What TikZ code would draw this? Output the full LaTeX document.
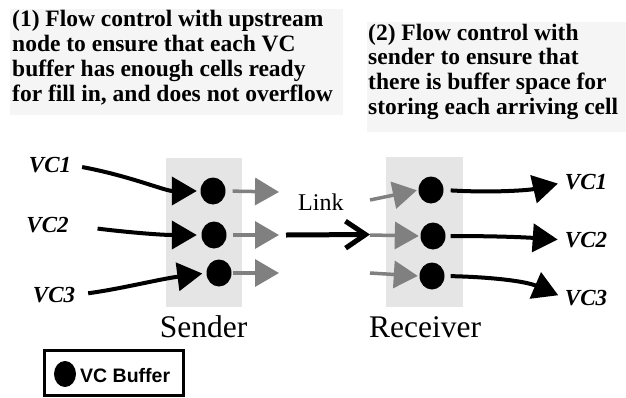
\documentclass[tikz,border=0pt]{standalone}
\usepackage{fontspec}
\setmainfont{Liberation Serif}[BoldFont={Liberation Serif Bold},ItalicFont={Liberation Serif Italic},BoldItalicFont={Liberation Serif Bold Italic}]
\newfontfamily\helv{Liberation Sans}[BoldFont={Liberation Sans Bold}]
\newfontfamily\tmsb{Liberation Serif Bold}
\newfontfamily\tmsbi{Liberation Serif Bold Italic}
\usetikzlibrary{arrows.meta,shapes.geometric}
\definecolor{txtbg}{HTML}{F5F5F5}
\definecolor{boxbg}{HTML}{E5E5E5}
\definecolor{arrgray}{HTML}{808080}
\tikzset{
  buf/.style={ellipse,fill=black,minimum width=25pt,minimum height=27pt,inner sep=0pt},
  blk/.style={line width=4pt,-{Triangle[length=25pt,width=28pt]}},
  gry/.style={line width=3.5pt,draw=arrgray,-{Triangle[length=24pt,width=27pt,fill=arrgray]}},
  vclbl/.style={font=\tmsbi\fontsize{23}{25}\selectfont,inner sep=0pt},
  headline/.style={anchor=base west,inner sep=0pt,font=\tmsb\fontsize{23.5}{25}\selectfont},
  gbox/.style={fill=boxbg,inner sep=0pt},
  bigl/.style={anchor=base,inner sep=0pt,font=\fontsize{31.5}{33}\selectfont},
}
\begin{document}
\begin{tikzpicture}[x=1pt,y=-1pt]
\useasboundingbox (0,0) rectangle (626,397);
% heading backgrounds
\fill[txtbg] (10,9) rectangle (343,115);
\fill[txtbg] (367,22) rectangle (626,132);
% heading 1
\node[headline] (h11) at (12,26) {(1) Flow control with upstream};
\node[headline] (h12) at (12,51) {node to ensure that each VC};
\node[headline] (h13) at (12,76) {buffer has enough cells ready};
\node[headline] (h14) at (12,101) {for fill in, and does not overflow};
% heading 2
\node[headline] (h21) at (368,40) {(2) Flow control with};
\node[headline] (h22) at (368,64.5) {sender to ensure that};
\node[headline] (h23) at (368,89) {there is buffer space for};
\node[headline] (h24) at (368,114) {storing each arriving cell};
% boxes
\node[gbox,minimum width=76pt,minimum height=149pt] (sbox) at (204,232.5) {};
\node[gbox,minimum width=77pt,minimum height=150pt] (rbox) at (424.5,232) {};
% buffers
\node[buf] (s1) at (213,191) {};
\node[buf] (s2) at (214,235) {};
\node[buf] (s3) at (219,273) {};
\node[buf] (r1) at (431,190) {};
\node[buf] (r2) at (433,236) {};
\node[buf] (r3) at (432,276) {};
% labels
\node[vclbl] (l1) at (50,165) {VC1};
\node[vclbl] (l2) at (47.5,225) {VC2};
\node[vclbl] (l3) at (54,295) {VC3};
\node[vclbl] (o1) at (586,182) {VC1};
\node[vclbl] (o2) at (586,240) {VC2};
\node[vclbl] (o3) at (586,298) {VC3};
% input arrows
\draw[blk,shorten <=11pt,shorten >=3.5pt] (l1.east) .. controls (130,176) and (165,191) .. (s1.west);
\draw[blk,shorten <=29pt,shorten >=4.5pt] (l2.east) .. controls (125,232) and (160,235) .. (s2.west);
\draw[blk,shorten <=13pt,shorten >=4pt] (l3.east) .. controls (120,289) and (160,279) .. (s3.west);
% sender gray arrows
\coordinate (sg1) at (279,192);
\coordinate (sg2) at (279,235);
\coordinate (sg3) at (279,273);
\draw[gry,shorten <=7pt] (s1.east) -- (sg1);
\draw[gry,shorten <=6pt] (s2.east) -- (sg2);
\draw[gry,shorten <=1.5pt] (s3.east) -- (sg3);
% link
\coordinate (la) at (286,235);
\coordinate (lb) at (370,234.5);
\draw[line width=5pt,-{Straight Barb[length=20pt,width=27pt]}] (la) -- (lb);
\node[anchor=base west,inner sep=0pt,font=\fontsize{24}{26}\selectfont] (link) at (298,210) {Link};
% receiver gray arrows
\coordinate (rg1) at (370,200);
\coordinate (rg2) at (370,235);
\coordinate (rg3) at (370,273);
\draw[gry,shorten >=1.5pt] (rg1) -- (r1.west);
\draw[gry,shorten >=1.5pt] (rg2) -- (r2.west);
\draw[gry,shorten >=1.5pt] (rg3) -- (r3.west);
% output arrows
\draw[blk,shorten <=7pt,shorten >=7pt] (r1.east) .. controls (495,193) and (530,190) .. (o1.west);
\draw[blk,shorten <=5pt,shorten >=7pt] (r2.east) .. controls (490,236) and (520,237) .. (o2.west);
\draw[blk,shorten <=6pt,shorten >=7pt] (r3.east) .. controls (490,277) and (525,281) .. (o3.west);
% captions
\node[bigl] (snd) at (203.5,337) {Sender};
\node[bigl] (rcv) at (425,337) {Receiver};
% legend
\node[draw,line width=3pt,minimum width=139pt,minimum height=45pt,inner sep=0pt] (leg) at (114,373) {};
\node[buf,minimum width=22pt,minimum height=26pt] (legbuf) at (65,374) {};
\node[anchor=base west,inner sep=0pt,font=\helv\bfseries\fontsize{19.5}{21}\selectfont] (legtxt) at (80,382) {VC Buffer};
\end{tikzpicture}
\end{document}
